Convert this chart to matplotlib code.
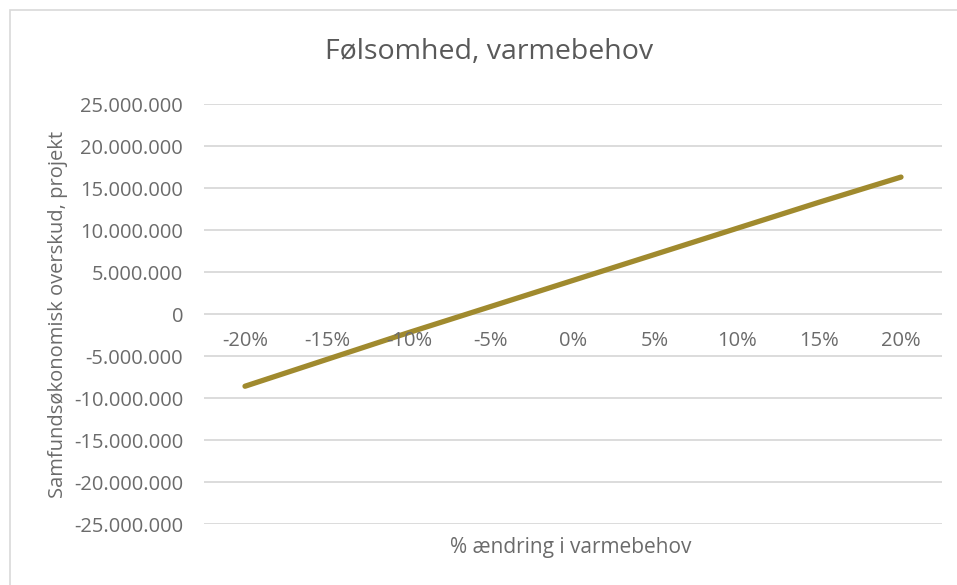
import matplotlib.pyplot as plt
from matplotlib.patches import Rectangle
from matplotlib.ticker import FuncFormatter

# sensitivity data
categories = ["-20%", "-15%", "-10%", "-5%", "0%", "5%", "10%", "15%", "20%"]
overskud = [-8.6e6, -5.4e6, -2.2e6, 0.9e6, 4.0e6, 7.1e6, 10.2e6, 13.3e6, 16.3e6]
y_ticks = [-25e6, -20e6, -15e6, -10e6, -5e6, 0, 5e6, 10e6, 15e6, 20e6, 25e6]

text_col = "#6b6b6b"
grid_col = "#d9d9d9"
line_col = "#a08a2e"

plt.rcParams["font.family"] = ["Open Sans", "DejaVu Sans"]

fig = plt.figure(figsize=(9.57, 5.85), dpi=100)
fig.patches.append(Rectangle((10 / 957, -0.1), 1.2, 1 - 10 / 585 + 0.1,
                             transform=fig.transFigure, fill=False,
                             edgecolor="#d9d9d9", linewidth=1.2))

ax = fig.add_axes([204 / 957, 1 - 524 / 585, 738 / 957, 420 / 585])
x = list(range(len(categories)))
ax.plot(x, overskud, color=line_col, linewidth=3.8, solid_capstyle="round", zorder=3)

ax.set_xlim(-0.5, len(categories) - 0.5)
ax.set_ylim(-25e6, 25e6)
ax.set_yticks(y_ticks)


def dk_fmt(v, pos):
    s = f"{abs(int(round(v))):,}".replace(",", ".")
    return ("-" if v < 0 else "") + s


ax.yaxis.set_major_formatter(FuncFormatter(dk_fmt))
ax.grid(axis="y", color=grid_col, linewidth=1.3)
ax.set_axisbelow(True)
for s in ax.spines.values():
    s.set_visible(False)
ax.tick_params(axis="y", length=0, pad=15, labelsize=14.5, labelcolor=text_col)

# category labels sit just below the zero line, like Excel
ax.set_xticks([])
for xi, lab in zip(x, categories):
    ax.annotate(lab, (xi, 0), xytext=(0, -27), textcoords="offset pixels",
                ha="center", va="center", fontsize=14.5, color=text_col)

ax.set_ylabel("Samfundsøkonomisk overskud, projekt", fontsize=14.5, color=text_col,
              labelpad=4)
fig.text(571 / 957, 1 - 547 / 585, "% ændring i varmebehov", ha="center",
         va="center", fontsize=15, color=text_col)
fig.text(489 / 957, 1 - 52 / 585, "Følsomhed, varmebehov", ha="center",
         va="center", fontsize=20.5, color="#595959")

fig.savefig("out.png", dpi=100)
